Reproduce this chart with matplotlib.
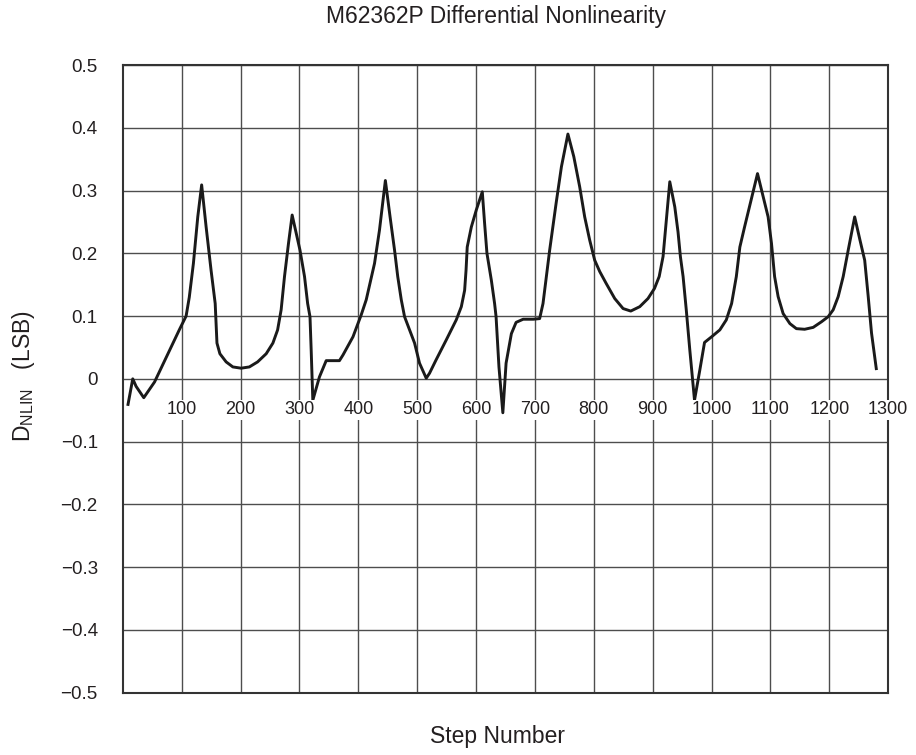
import numpy as np
import matplotlib as mpl
mpl.use('Agg')
import matplotlib.pyplot as plt

plt.rcParams['font.family'] = ['Liberation Sans', 'DejaVu Sans']

# curve
step = [8.5, 17, 22.7, 35.7, 54, 96, 107.6, 113, 120, 127.4, 134, 141.6, 150, 157, 160,
        165, 175.6, 187, 201, 215, 229, 243.6, 255, 263, 269, 274.7, 281.5, 287.7, 294.5,
        301, 308.7, 314, 318, 320, 322.8, 334, 345.5, 357, 368, 374, 391, 405, 413.5,
        427.6, 436, 446, 454, 461.6, 467, 473, 478.6, 487, 495.6, 504, 515.4, 521, 532,
        549.4, 566.4, 575, 580.6, 583, 585, 592, 600.4, 610.6, 614.5, 618.5, 626, 631.5,
        634, 638.9, 645.5, 651, 660, 668, 680, 697, 708, 713.7, 725, 736, 745, 756, 766,
        776, 784.5, 793, 801.5, 810, 821, 835.5, 849.7, 862.7, 878, 892, 903, 911, 917.6,
        921.6, 929, 937.5, 943, 947, 951.6, 957, 963, 971, 980, 988, 1000, 1014, 1025,
        1034, 1042, 1048, 1056, 1068, 1078, 1086, 1096, 1101.7, 1107, 1113, 1121.5, 1133,
        1144, 1158, 1172.5, 1186.7, 1198, 1206.5, 1215, 1223.5, 1232, 1243, 1252, 1260,
        1266, 1271.6, 1280]
dnl = [-0.043, 0.0, -0.012, -0.030, -0.005, 0.078, 0.100, 0.13, 0.184, 0.258, 0.309,
       0.242, 0.173, 0.12, 0.057, 0.04, 0.027, 0.019, 0.017, 0.019, 0.027, 0.04, 0.057,
       0.078, 0.11, 0.163, 0.216, 0.261, 0.232, 0.205, 0.163, 0.12, 0.099, 0.046, -0.034,
       0.003, 0.029, 0.029, 0.029, 0.038, 0.067, 0.102, 0.126, 0.184, 0.237, 0.316, 0.258,
       0.205, 0.163, 0.126, 0.099, 0.078, 0.057, 0.025, 0.001, 0.009, 0.03, 0.062, 0.094,
       0.115, 0.141, 0.173, 0.21, 0.242, 0.269, 0.298, 0.248, 0.2, 0.157, 0.12, 0.099,
       0.019, -0.054, 0.025, 0.072, 0.09, 0.095, 0.095, 0.096, 0.12, 0.205, 0.28, 0.338,
       0.390, 0.354, 0.306, 0.258, 0.221, 0.189, 0.171, 0.152, 0.128, 0.112, 0.108, 0.115,
       0.128, 0.144, 0.163, 0.195, 0.237, 0.314, 0.274, 0.234, 0.195, 0.163, 0.11, 0.046,
       -0.034, 0.014, 0.058, 0.067, 0.078, 0.094, 0.12, 0.163, 0.21, 0.242, 0.288, 0.327,
       0.296, 0.258, 0.216, 0.163, 0.131, 0.104, 0.088, 0.08, 0.079, 0.082, 0.091, 0.099,
       0.11, 0.131, 0.163, 0.205, 0.258, 0.221, 0.189, 0.131, 0.073, 0.014]

xticks = [100, 200, 300, 400, 500, 600, 700, 800, 900, 1000, 1100, 1200, 1300]
yticks = [-0.5, -0.4, -0.3, -0.2, -0.1, 0, 0.1, 0.2, 0.3, 0.4, 0.5]
ylabels = ["\u22120.5", "\u22120.4", "\u22120.3", "\u22120.2", "\u22120.1", "0",
           "0.1", "0.2", "0.3", "0.4", "0.5"]

fig = plt.figure(figsize=(9.16, 7.55), dpi=100)
ax = fig.add_axes([0.134, 0.0825, 0.8357, 0.8314])

ax.plot(step, dnl, color='#1a1a1a', linewidth=2.1, zorder=3,
        solid_joinstyle='round', solid_capstyle='butt')

ax.set_xlim(0, 1300)
ax.set_ylim(-0.5, 0.5)
ax.set_xticks(xticks)
ax.set_xticklabels([])
ax.set_yticks(yticks)
ax.set_yticklabels(ylabels, fontsize=13.5, color='#231f20')
ax.tick_params(axis='y', length=0, pad=18)
ax.tick_params(axis='x', length=0, pad=0)
ax.grid(True, color='#4d4d4d', linewidth=1.0)
for s in ax.spines.values():
    s.set_color('#333333')
    s.set_linewidth(1.5)

# step labels sit inside the plot under the zero line, on a white patch
for t in xticks:
    ax.text(t, -0.0566, str(t), ha='center', va='baseline', fontsize=13, color='#231f20',
            zorder=4, bbox=dict(facecolor='white', edgecolor='none', pad=1))

fig.text(0.5415, 1 - 17 / 755, "M62362P Differential Nonlinearity", fontsize=16.5,
         color='#231f20', ha='center', va='center')
ax.set_xlabel("Step Number", fontsize=16.5, color='#231f20', va='center')
ax.xaxis.set_label_coords(0.49, -0.069)
ax.set_ylabel(r"D$_{\mathregular{NLIN}}$   (LSB)", fontsize=16.5, color='#231f20',
              va='center')
ax.yaxis.set_label_coords(-0.129, 0.5045)

plt.savefig("out.png", dpi=100)
